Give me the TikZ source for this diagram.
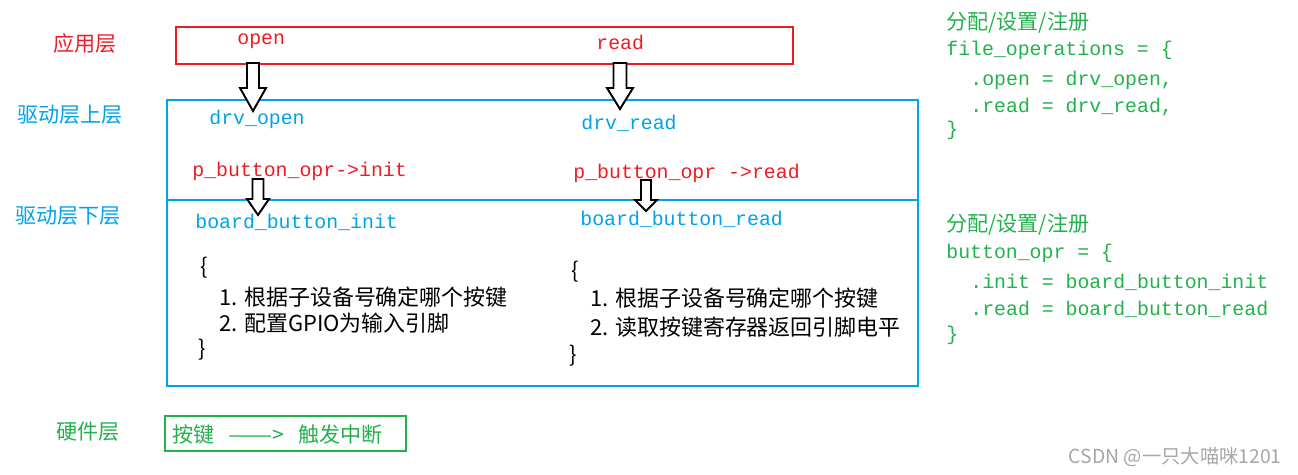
\documentclass[tikz,border=0pt]{standalone}
\usepackage{fontspec}
\usepackage{xcolor}
\usepackage{graphicx}
\newfontfamily\cjk{Noto Sans CJK SC}
\newfontfamily\mono{Liberation Mono}
\definecolor{appred}{RGB}{237,28,36}
\definecolor{drvblue}{RGB}{0,162,232}
\definecolor{hwgreen}{RGB}{34,177,76}
\tikzset{
	layer/.style={font=\cjk\fontsize{12}{14}\selectfont, inner sep=0pt},
	code/.style={font=\mono\fontsize{11.3}{13}\selectfont, inner sep=0pt, anchor=west},
	note/.style={font=\cjk\fontsize{12}{14}\selectfont, inner sep=0pt, anchor=west},
	step text/.style={font=\cjk\fontsize{12.5}{14}\selectfont, inner sep=0pt, anchor=west},
	frame/.style={line width=1.1pt},
	hollow/.style={draw=black, fill=white, line width=1.1pt, line join=miter}
}
% x, top, neck, tip, half shaft, half head
\newcommand\hollowdown[6]{%
	\draw[hollow] (#1-#5,#2) -- (#1+#5,#2) -- (#1+#5,#3) -- (#1+#6,#3)
		-- (#1,#4) -- (#1-#6,#3) -- (#1-#5,#3) -- cycle;}
\begin{document}
\begin{tikzpicture}[x=0.02cm, y=-0.02cm]
		\useasboundingbox (0,0) rectangle (1298,475);
		% layer names
		\node[layer, text=appred] (app) at (85,44) {应用层};
		\node[layer, text=drvblue] (upper) at (70,115) {驱动层上层};
		\node[layer, text=drvblue] (lower) at (68,216) {驱动层下层};
		\node[layer, text=hwgreen] (hw) at (88,432) {硬件层};
		% frames
		\draw[frame, appred] (176,27) rectangle (793,64);
		\draw[frame, drvblue] (167,100) rectangle (918,386);
		\draw[frame, drvblue] (167,200) -- (918,200);
		\draw[frame, hwgreen] (165,416) rectangle (406,451);
		% arrows
		\hollowdown{253}{63}{88}{111}{6}{13}
		\hollowdown{620}{63}{88}{109}{6.5}{13}
		\hollowdown{258}{179}{199}{215}{5.5}{11}
		\hollowdown{646}{180}{200}{211}{5}{11}
		% application layer
		\node[code, text=appred] (open) at (237,41) {open};
		\node[code, text=appred] (read) at (596,42) {read};
		% upper driver layer
		\node[code, text=drvblue] (drvopen) at (209,119) {drv\_open};
		\node[code, text=drvblue] (drvread) at (581,123) {drv\_read};
		\node[code, text=appred] (callinit) at (192,171) {p\_button\_opr->init};
		\node[code, text=appred] (callread) at (573,173) {p\_button\_opr ->read};
		% lower driver layer
		\node[code, text=drvblue] (bbinit) at (195,222) {board\_button\_init};
		\node[code, text=drvblue] (bbread) at (580,219) {board\_button\_read};
		\node[step text] (lb1) at (200,268) {\{};
		\node[step text] (li1) at (219,297) {1. 根据子设备号确定哪个按键};
		\node[step text] (li2) at (219,323) {2. 配置GPIO为输入引脚};
		\node[step text] (lb2) at (198,350) {\}};
		\node[step text] (rb1) at (571,272) {\{};
		\node[step text] (ri1) at (590,298) {1. 根据子设备号确定哪个按键};
		\node[step text] (ri2) at (590,327) {2. 读取按键寄存器返回引脚电平};
		\node[step text] (rb2) at (569,356) {\}};
		% hardware layer
		\node[note, text=hwgreen] (key) at (172,434)
			{按键\hspace{0.28cm}\makebox[1.1cm][l]{\scalebox{1.25}[1]{——}>}\hspace{0.3cm}触发中断};
		% registration notes
		\node[note, text=hwgreen] (reg1) at (946,22) {分配/设置/注册};
		\node[code, text=hwgreen] (fops) at (946,50) {file\_operations = \{};
		\node[code, text=hwgreen] (fopen) at (970,80) {.open = drv\_open,};
		\node[code, text=hwgreen] (fread) at (970,107) {.read = drv\_read,};
		\node[code, text=hwgreen] (fend) at (946,130) {\}};
		\node[note, text=hwgreen] (reg2) at (946,224) {分配/设置/注册};
		\node[code, text=hwgreen] (bops) at (946,253) {button\_opr = \{};
		\node[code, text=hwgreen] (binit) at (970,282) {.init = board\_button\_init};
		\node[code, text=hwgreen] (bread) at (970,309) {.read = board\_button\_read};
		\node[code, text=hwgreen] (bend) at (946,335) {\}};
		\node[font=\cjk\fontsize{11}{13}\selectfont, text=gray!70, anchor=east, inner sep=0pt] (mark) at (1282,457) {CSDN @一只大喵咪1201};
	\end{tikzpicture}
\end{document}
